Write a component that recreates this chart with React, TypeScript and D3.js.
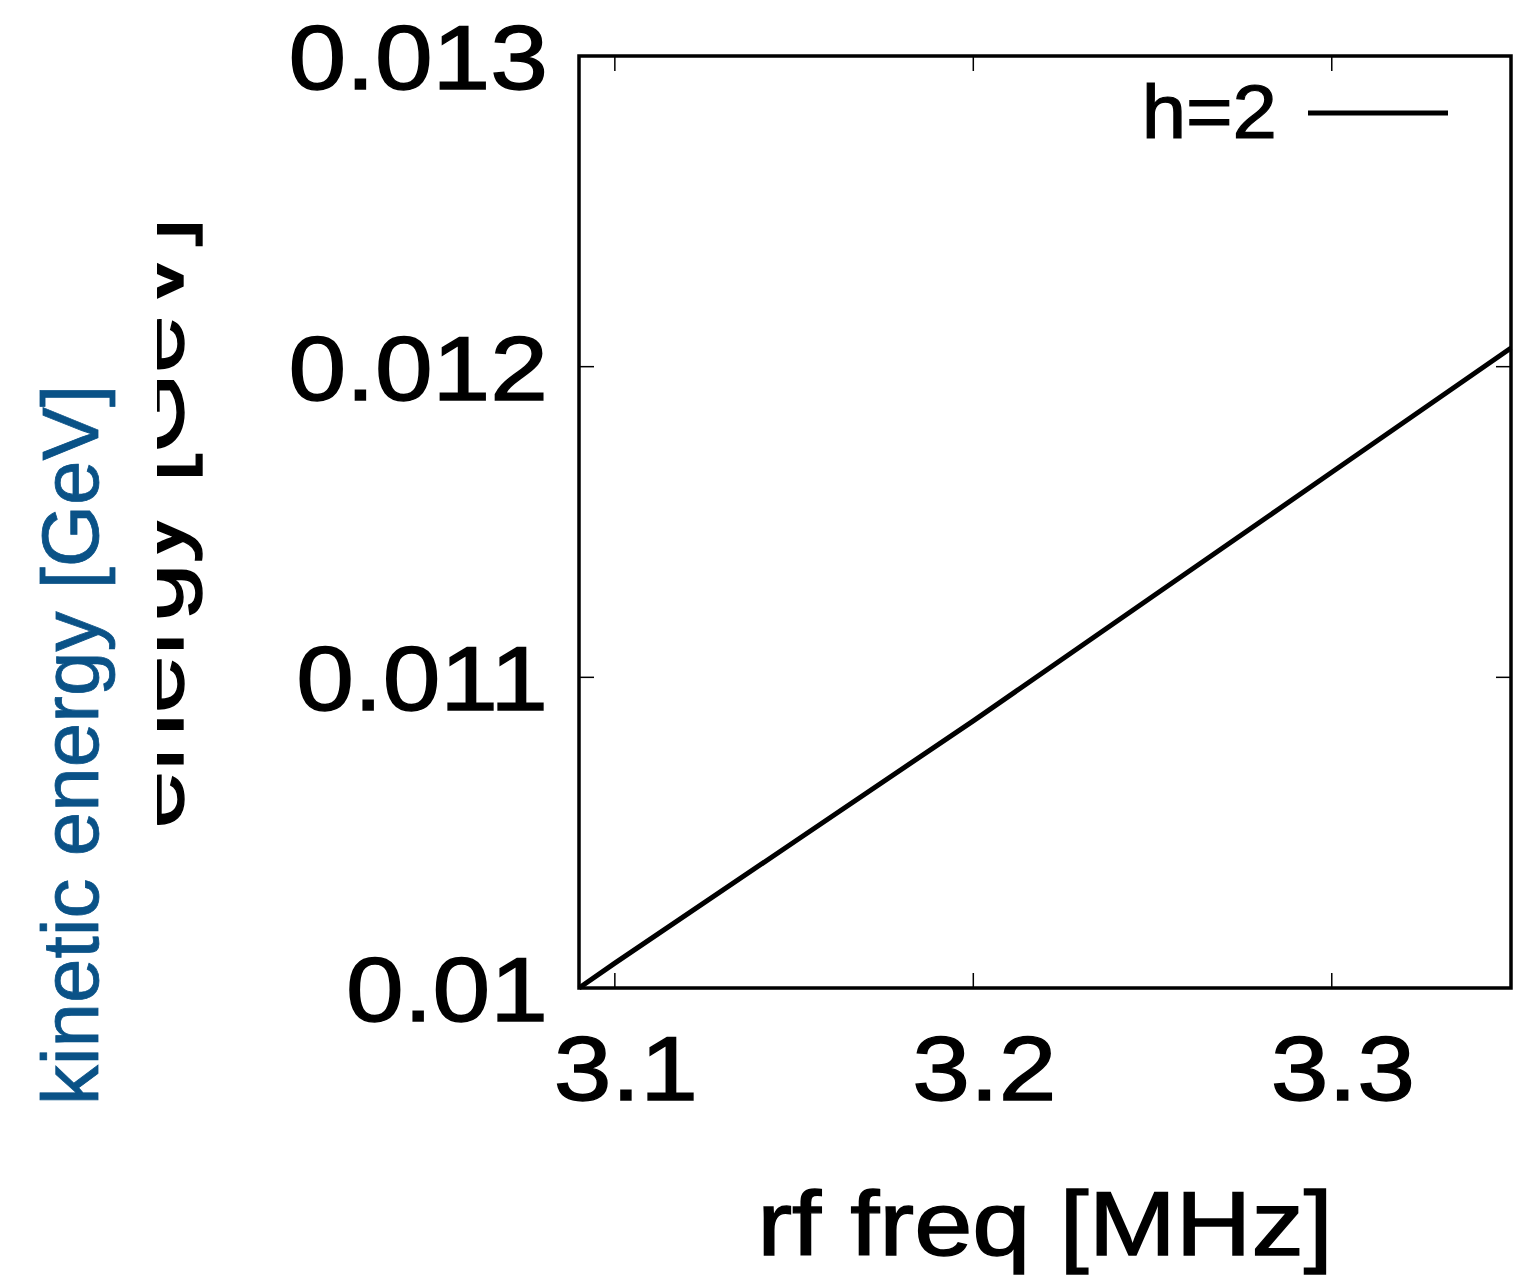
import React, { useEffect, useRef } from "react";
import * as d3 from "d3";

// rf frequency [MHz] vs kinetic energy [GeV], h=2
const freqMHz = [3.09, 3.1, 3.15, 3.2, 3.25, 3.3, 3.35];
const energyGeV = [0.01, 0.01008, 0.01047, 0.01086, 0.01126, 0.01166, 0.01206];
const xTicks = [3.1, 3.2, 3.3];
const yTicks = [0.01, 0.011, 0.012, 0.013];
const yTickLabels = ["0.01", "0.011", "0.012", "0.013"];
const xTickLabels = ["3.1", "3.2", "3.3"];
const seriesName = "h=2";

const FONT = "'Liberation Sans', Arial, Helvetica, sans-serif";
const STRETCH = 1.14;

const App = () => {
  const svgRef = useRef<SVGSVGElement>(null);

  useEffect(() => {
    const W = 1538;
    const H = 1283;
    const margin = { top: 56, right: 27, bottom: 295, left: 579 };
    const width = W - margin.left - margin.right;
    const height = H - margin.top - margin.bottom;

    const root = d3.select(svgRef.current);
    root.selectAll("*").remove();
    root.attr("width", W).attr("height", H);

    const x = d3.scaleLinear().domain([3.09, 3.35]).range([0, width]);
    const y = d3.scaleLinear().domain([0.01, 0.013]).range([height, 0]);

    const g = root
      .append("g")
      .attr("transform", `translate(${margin.left},${margin.top})`);

    // ticks on all four sides
    const tickLen = 15;
    xTicks.forEach((t) => {
      g.append("line")
        .attr("x1", x(t)).attr("x2", x(t))
        .attr("y1", height).attr("y2", height - tickLen)
        .attr("stroke", "#000").attr("stroke-width", 1.5);
      g.append("line")
        .attr("x1", x(t)).attr("x2", x(t))
        .attr("y1", 0).attr("y2", tickLen)
        .attr("stroke", "#000").attr("stroke-width", 1.5);
    });
    yTicks.forEach((t) => {
      g.append("line")
        .attr("x1", 0).attr("x2", tickLen)
        .attr("y1", y(t)).attr("y2", y(t))
        .attr("stroke", "#000").attr("stroke-width", 1.5);
      g.append("line")
        .attr("x1", width).attr("x2", width - tickLen)
        .attr("y1", y(t)).attr("y2", y(t))
        .attr("stroke", "#000").attr("stroke-width", 1.5);
    });

    const label = (sel: any, size: number, color = "#000", weight = 1.4) =>
      sel
        .attr("font-family", FONT)
        .attr("font-size", size)
        .attr("fill", color)
        .attr("stroke", color)
        .attr("stroke-width", weight);

    // tick labels
    xTicks.forEach((t, i) => {
      label(
        g.append("text")
          .attr("transform", `translate(${x(t) + 11},${height + 112}) scale(${STRETCH},1)`)
          .attr("text-anchor", "middle"),
        91
      ).text(xTickLabels[i]);
    });
    yTicks.forEach((t, i) => {
      label(
        g.append("text")
          .attr("transform", `translate(-31,${y(t) + 33}) scale(${STRETCH},1)`)
          .attr("text-anchor", "end"),
        91
      ).text(yTickLabels[i]);
    });

    // data line
    const pts = freqMHz.map((f, i) => [f, energyGeV[i]] as [number, number]);
    const line = d3
      .line<[number, number]>()
      .x((d) => x(d[0]))
      .y((d) => y(d[1]));
    g.append("path")
      .datum(pts)
      .attr("d", line)
      .attr("fill", "none")
      .attr("stroke", "#000")
      .attr("stroke-width", 5);

    // frame
    g.append("rect")
      .attr("width", width)
      .attr("height", height)
      .attr("fill", "none")
      .attr("stroke", "#000")
      .attr("stroke-width", 3.5);

    // legend
    label(
      g.append("text")
        .attr("transform", `translate(${width - 234},82) scale(1.05,1)`)
        .attr("text-anchor", "end"),
      76,
      "#000",
      1.2
    ).text(seriesName);
    g.append("line")
      .attr("x1", width - 203).attr("x2", width - 63)
      .attr("y1", 57).attr("y2", 57)
      .attr("stroke", "#000").attr("stroke-width", 5);

    // x axis label
    label(
      g.append("text")
        .attr("transform", `translate(${width / 2},${height + 267}) scale(${STRETCH + 0.01},1)`)
        .attr("text-anchor", "middle"),
      91
    ).text("rf freq [MHz]");

    // black y label, partly clipped on its left
    const clip = root.append("defs").append("clipPath").attr("id", "ylab-clip");
    clip.append("rect").attr("x", 157).attr("y", 0).attr("width", 200).attr("height", H);
    label(
      root
        .append("g")
        .attr("clip-path", "url(#ylab-clip)")
        .append("text")
        .attr("transform", `translate(183,${margin.top + height / 2 + 1}) scale(1,${STRETCH}) rotate(-90)`)
        .attr("text-anchor", "middle"),
      91
    ).text("energy [GeV]");

    // blue y label
    label(
      root
        .append("text")
        .attr("transform", `translate(98,745) rotate(-90)`)
        .attr("text-anchor", "middle"),
      80,
      "#0a5287",
      0.8
    ).text("kinetic energy [GeV]");
  }, []);

  return (
    <div style={{ position: "absolute", left: 0, top: 0, background: "#fff" }}>
      <svg ref={svgRef} style={{ display: "block" }}></svg>
    </div>
  );
};

export default App;
